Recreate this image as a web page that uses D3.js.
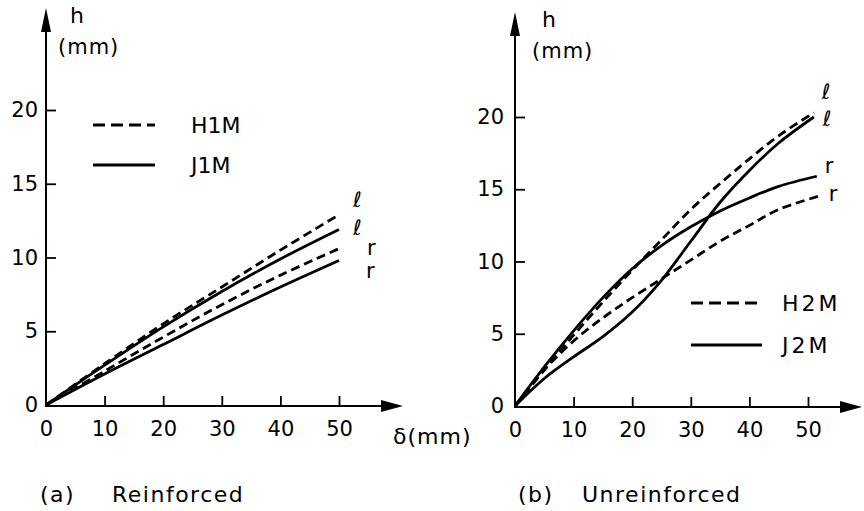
<!DOCTYPE html>
<html>
<head>
<meta charset="utf-8">
<script src="https://cdn.jsdelivr.net/npm/d3@7"></script>
<style>
  body { margin: 0; background: #fff; }
  svg { display: block; }
  text { font-family: "DejaVu Sans", sans-serif; fill: #000; }
</style>
</head>
<body>
<svg id="chart" width="864" height="511"></svg>
<script>
// ---- data ----
const xTicks = [0, 10, 20, 30, 40, 50];
const yTicks = [0, 5, 10, 15, 20];

// (a) reinforced
const h1mL = [[0, 0], [10, 2.8], [20, 5.5], [30, 8.0], [40, 10.5], [50, 12.9]];
const j1mL = [[0, 0], [10, 2.7], [20, 5.3], [30, 7.7], [40, 9.9], [50, 11.9]];
const h1mR = [[0, 0], [10, 2.3], [20, 4.6], [30, 6.8], [40, 8.8], [50, 10.6]];
const j1mR = [[0, 0], [10, 2.1], [20, 4.1], [30, 6.1], [40, 8.0], [50, 9.8]];

// (b) unreinforced
const h2mL = [[0, 0], [5, 2.5], [10, 4.9], [15, 7.2], [20, 9.4], [25, 11.5], [30, 13.6], [35, 15.4], [40, 17.1], [45, 18.7], [51, 20.3]];
const j2mL = [[0, 0], [5, 1.9], [10, 3.4], [15, 4.8], [20, 6.5], [25, 8.7], [30, 11.4], [35, 14.1], [40, 16.3], [45, 18.2], [51, 20.0]];
const h2mR = [[0, 0], [5, 2.5], [10, 4.5], [15, 6.1], [20, 7.5], [25, 8.8], [30, 10.1], [35, 11.4], [40, 12.5], [45, 13.6], [52.5, 14.6]];
const j2mR = [[0, 0], [5, 2.7], [10, 5.2], [15, 7.5], [20, 9.5], [25, 11.1], [30, 12.4], [35, 13.5], [40, 14.4], [45, 15.2], [51.5, 15.9]];

const svg = d3.select('#chart');
const dash = '9,5';

function drawPanel(opt) {
  const x = d3.scaleLinear().domain([0, 50]).range([opt.x0, opt.x50]);
  const y = d3.scaleLinear().domain([0, 20]).range([opt.y0, opt.y20]);
  const g = svg.append('g');

  // axis lines with arrow heads
  g.append('line').attr('x1', x(0)).attr('x2', opt.xTip - 16)
    .attr('y1', y(0) + 1).attr('y2', y(0) + 1)
    .attr('stroke', '#000').attr('stroke-width', 2);
  g.append('path')
    .attr('d', `M${opt.xTip},${y(0) + 1} L${opt.xTip - 22},${y(0) - 5} L${opt.xTip - 22},${y(0) + 7} Z`)
    .attr('fill', '#000');
  g.append('line').attr('x1', x(0)).attr('x2', x(0))
    .attr('y1', y(0) + 2).attr('y2', opt.yTip + 16)
    .attr('stroke', '#000').attr('stroke-width', 2);
  g.append('path')
    .attr('d', `M${x(0)},${opt.yTip} L${x(0) - 5},${opt.yTip + 24} L${x(0) + 5},${opt.yTip + 24} Z`)
    .attr('fill', '#000');

  // ticks pointing inward
  const xAxis = g.append('g').attr('transform', `translate(0,${y(0) + 1})`)
    .call(d3.axisBottom(x).tickValues(xTicks).tickSize(-10).tickPadding(15).tickFormat(d3.format('d')));
  const yAxis = g.append('g').attr('transform', `translate(${x(0)},0)`)
    .call(d3.axisLeft(y).tickValues(yTicks).tickSize(-10).tickPadding(opt.yPad).tickFormat(d3.format('d')));
  [xAxis, yAxis].forEach(a => {
    a.select('.domain').remove();
    a.selectAll('line').attr('stroke', '#000').attr('stroke-width', 1.8);
    a.selectAll('text').style('font-family', '"DejaVu Sans", sans-serif')
      .style('font-size', '21px').attr('fill', '#000');
  });
  xAxis.selectAll('.tick').filter(d => d === 0).select('line').remove();
  yAxis.selectAll('.tick').filter(d => d === 0).select('line').remove();

  // axis title h (mm)
  g.append('text').attr('x', x(0) + opt.hDx).attr('y', opt.yTip + 15)
    .style('font-size', '22px').text('h');
  g.append('text').attr('x', x(0) + opt.mmDx).attr('y', opt.yTip + 46)
    .style('font-size', '21px').style('letter-spacing', '1px').text('(mm)');

  // curves
  const line = d3.line().x(d => x(d[0])).y(d => y(d[1])).curve(d3.curveCatmullRom.alpha(0.5));
  opt.series.forEach(s => {
    g.append('path').datum(s.data)
      .attr('d', line)
      .attr('fill', 'none')
      .attr('stroke', '#000')
      .attr('stroke-width', 2.8)
      .attr('stroke-dasharray', s.dashed ? dash : null);
    const last = s.data[s.data.length - 1];
    g.append('text')
      .attr('x', x(last[0]) + s.lx)
      .attr('y', y(last[1]) + s.ly)
      .style('font-size', '21px')
      .text(s.tag);
  });

  // legend
  opt.legend.forEach((l, i) => {
    const ly = opt.legY + i * opt.legGap;
    g.append('line')
      .attr('x1', opt.legX1).attr('x2', opt.legX2)
      .attr('y1', ly).attr('y2', ly)
      .attr('stroke', '#000').attr('stroke-width', 2.8)
      .attr('stroke-dasharray', l.dashed ? '12,6' : null);
    g.append('text')
      .attr('x', opt.legTx).attr('y', ly + 8)
      .style('font-size', '22px').style('letter-spacing', opt.legLs)
      .text(l.name);
  });

  // caption
  g.append('text').attr('x', opt.capX).attr('y', 502)
    .style('font-size', '22px').style('letter-spacing', '1.5px')
    .text(opt.capA);
  g.append('text').attr('x', opt.capX2).attr('y', 502)
    .style('font-size', '22px').style('letter-spacing', '1.5px')
    .text(opt.capB);
  return { x, y };
}

drawPanel({
  x0: 46, x50: 339, y0: 405, y20: 110, xTip: 403, yTip: 8, yPad: 8,
  hDx: 24, mmDx: 12,
  series: [
    { data: h1mL, dashed: true, tag: 'ℓ', lx: 14, ly: -8 },
    { data: j1mL, dashed: false, tag: 'ℓ', lx: 14, ly: 6 },
    { data: h1mR, dashed: true, tag: 'r', lx: 28, ly: 6 },
    { data: j1mR, dashed: false, tag: 'r', lx: 27, ly: 18 }
  ],
  legend: [{ name: 'H1M', dashed: true }, { name: 'J1M', dashed: false }],
  legY: 125, legGap: 40, legX1: 93, legX2: 155, legTx: 191, legLs: '0px',
  capX: 40, capA: '(a)', capX2: 112, capB: 'Reinforced'
});

drawPanel({
  x0: 515, x50: 808, y0: 406, y20: 117, xTip: 862, yTip: 12, yPad: 11,
  hDx: 27, mmDx: 17,
  series: [
    { data: h2mL, dashed: true, tag: 'ℓ', lx: 8, ly: -14 },
    { data: j2mL, dashed: false, tag: 'ℓ', lx: 9, ly: 9 },
    { data: j2mR, dashed: false, tag: 'r', lx: 8, ly: -3 },
    { data: h2mR, dashed: true, tag: 'r', lx: 6, ly: 6 }
  ],
  legend: [{ name: 'H2M', dashed: true }, { name: 'J2M', dashed: false }],
  legY: 303, legGap: 42, legX1: 691, legX2: 762, legTx: 782, legLs: '3px',
  capX: 518, capA: '(b)', capX2: 582, capB: 'Unreinforced'
});

// x-axis title between the panels
svg.append('text').attr('x', 393).attr('y', 444)
  .style('font-size', '22px').style('letter-spacing', '1px')
  .text('δ(mm)');
</script>
</body>
</html>
